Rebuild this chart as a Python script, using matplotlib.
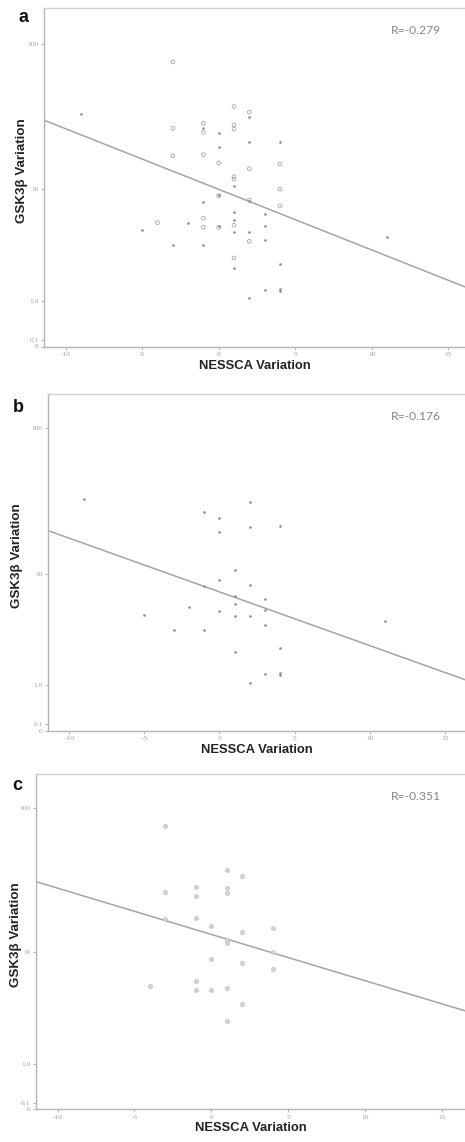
import numpy as np
import matplotlib
matplotlib.use("Agg")
import matplotlib.pyplot as plt

plt.rcParams["axes.unicode_minus"] = False

# group b (small dots)
b_x = [-9, -1, 0, 2, 0, 2, 4, 1, 0, -1, 2, 1, 3, 1, -2, 0, 3, -5, 1, 2,
       3, -3, -1, 11, 4, 1, 3, 4, 4, 2]
b_y = [33.4, 27.0, 24.8, 31.8, 19.8, 21.6, 21.7, 10.6, 9.0, 8.1, 8.2, 6.8, 6.5, 5.9, 5.6, 5.26, 5.28, 4.88, 4.72, 4.72,
       4.05, 3.68, 3.68, 4.3, 2.53, 2.31, 1.37, 1.41, 1.33, 1.08]

# group c (open circles)
c_x = [-3, 1, 2, -1, 1, 1, -3, -1, -3, -1, 0, 2, 4, 1, 1,
       4, 0, 2, 4, -1, -4, -1, 0, 1, 2, 1]
c_y = [75.5, 37.8, 34.6, 29.0, 28.3, 26.5, 26.8, 25.1, 17.3, 17.6, 15.4, 14.0, 15.1, 12.3, 11.8,
       10.0, 8.95, 8.3, 7.5, 6.06, 5.6, 5.16, 5.14, 5.35, 3.97, 2.85]

# fit line values at the left / right axis limits
fit_a = [30.4, 1.48]
fit_b = [20.2, 1.18]
fit_c = [31.5, 3.5]

r_texts = ["R=-0.279", "R=-0.176", "R=-0.351"]
panel_names = ["a", "b", "c"]
y_ticks = [0, 0.1, 1.0, 10, 100]
y_ticklabels = ["0", "0.1", "1.0", "10", "100"]
x_ticks = [-10, -5, 0, 5, 10, 15]

W, H = 465, 1142
fig = plt.figure(figsize=(W / 100, H / 100), dpi=100)


def fwd(y):
    return np.log10(np.asarray(y, dtype=float) + 1)


def inv(v):
    return 10 ** np.asarray(v, dtype=float) - 1


# left, top, bottom (pixels), xlim, ylim top, ylabel offset, letter pos
panels = [
    (44.3, 8.3, 346.5, (-11.4, 16.1), 172, -22, (23, 18)),
    (48.3, 394, 730.7, (-11.4, 16.35), 170, -31, (18, 408)),
    (36.0, 774, 1109, (-11.4, 16.5), 168, -20, (17, 785)),
]

grey = "#a8a8a8"
for i, (lp, tp, bp, xl, ytop, yoff, lpos) in enumerate(panels):
    ax = fig.add_axes([lp / W, 1 - bp / H, (W - lp) / W, (bp - tp) / H])
    ax.set_yscale("function", functions=(fwd, inv))
    ax.set_xlim(*xl)
    ax.set_ylim(0, ytop)

    if i == 0:
        ax.scatter(c_x, c_y, s=7, facecolors="none",
                   edgecolors="#b0b0b0", linewidths=0.7, zorder=3)
    if i == 2:
        ax.scatter(c_x, c_y, s=9, facecolors="#d4d4d4",
                   edgecolors="#c4c4c4", linewidths=0.5, zorder=3)
    if i in (0, 1):
        ax.scatter(b_x, b_y, s=3.5, marker="o", color="#8c8c8c", linewidths=0, zorder=4)

    fit = [fit_a, fit_b, fit_c][i]
    ax.plot(list(xl), fit, color="#a4a4a4", lw=1.1, zorder=2)

    ax.set_yticks(y_ticks)
    ax.set_yticklabels(y_ticklabels)
    ax.set_xticks(x_ticks)
    ax.minorticks_off()
    ax.tick_params(direction="out", length=2.5, width=0.6, color=grey,
                   labelsize=5.3, labelcolor="#a0a0a0", pad=1.5)
    for lab in ax.get_xticklabels() + ax.get_yticklabels():
        lab.set_family("Liberation Serif")

    for side in ("left", "bottom"):
        ax.spines[side].set_color("#b4b4b4")
        ax.spines[side].set_linewidth(1.0)
    ax.spines["top"].set_color("#cfcfcf")
    ax.spines["top"].set_linewidth(1.0)
    ax.spines["right"].set_visible(False)

    ax.annotate("NESSCA Variation", xy=(0.5, 0), xycoords="axes fraction",
                xytext=(0, -13.8), textcoords="offset points", ha="center", va="center",
                fontsize=9.4, fontweight="bold", family="Liberation Sans", color="#222222")
    ax.annotate("GSK3β Variation", xy=(0, 0.52), xycoords="axes fraction",
                xytext=(yoff * 0.72, 0), textcoords="offset points", ha="center", va="center",
                rotation=90, fontsize=9.6, fontweight="bold", family="Liberation Sans",
                color="#222222")

    fig.text(416 / W, 1 - (tp + 22.5) / H, r_texts[i], ha="center", va="center",
             fontsize=8.7, color="#858585", family="Lato")
    fig.text(lpos[0] / W, 1 - lpos[1] / H, panel_names[i], ha="center", va="center",
             fontsize=13, fontweight="bold", family="Liberation Sans", color="#111111")

fig.savefig("out.png", dpi=100)
